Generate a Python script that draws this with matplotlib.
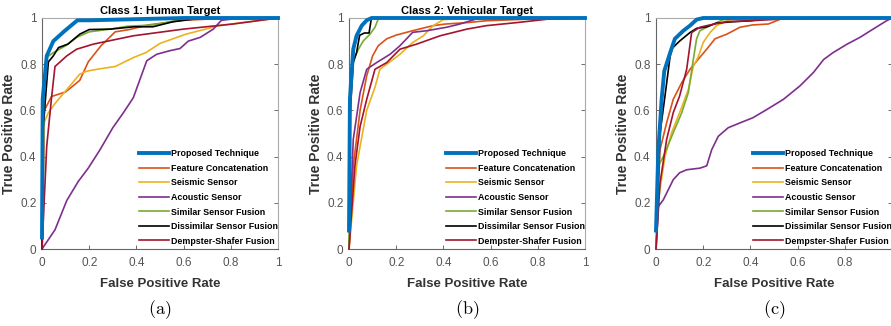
import numpy as np
import matplotlib.pyplot as plt

plt.rcParams['font.family'] = ['Liberation Sans', 'DejaVu Sans']
plt.rcParams['mathtext.fontset'] = 'cm'

names = ['Proposed Technique', 'Feature Concatenation', 'Seismic Sensor', 'Acoustic Sensor',
         'Similar Sensor Fusion', 'Dissimilar Sensor Fusion', 'Dempster-Shafer Fusion']
colors = ['#0072BD', '#D95319', '#EDB120', '#7E2F8E', '#77AC30', '#000000', '#A2142F']
titles = ['Class 1: Human Target', 'Class 2: Vehicular Target', '']
captions = ['(a)', '(b)', '(c)']

# ---- class 1 (human)
a_prop_x = [0, 0.003, 0.02, 0.048, 0.097, 0.15, 0.2, 0.4, 0.6, 1]
a_prop_y = [0.05, 0.65, 0.836, 0.90, 0.945, 0.99, 0.99, 0.995, 1.0, 1]
a_feat_x = [0, 0.01, 0.04, 0.10, 0.16, 0.196, 0.25, 0.31, 0.37, 0.45, 0.6, 0.8, 1]
a_feat_y = [0, 0.60, 0.66, 0.68, 0.73, 0.81, 0.88, 0.94, 0.95, 0.97, 0.99, 1.0, 1]
a_seis_x = [0, 0.01, 0.027, 0.055, 0.105, 0.16, 0.19, 0.245, 0.31, 0.39, 0.44, 0.5, 0.61, 0.75, 1]
a_seis_y = [0, 0.55, 0.59, 0.63, 0.69, 0.757, 0.77, 0.78, 0.79, 0.83, 0.85, 0.89, 0.93, 0.967, 1]
a_acou_x = [0, 0.055, 0.105, 0.154, 0.196, 0.246, 0.30, 0.345, 0.387, 0.41, 0.444, 0.486,
            0.54, 0.585, 0.62, 0.67, 0.726, 0.76, 0.81, 1]
a_acou_y = [0, 0.083, 0.21, 0.293, 0.35, 0.43, 0.525, 0.59, 0.655, 0.72, 0.815, 0.843,
            0.858, 0.868, 0.90, 0.916, 0.952, 0.99, 0.996, 1]
a_simi_x = [0, 0.005, 0.02, 0.048, 0.1, 0.147, 0.2, 0.29, 0.36, 0.47, 0.61, 1]
a_simi_y = [0, 0.6, 0.83, 0.85, 0.88, 0.916, 0.94, 0.952, 0.964, 0.97, 0.996, 1]
a_diss_x = [0, 0.003, 0.027, 0.048, 0.07, 0.11, 0.16, 0.2, 0.29, 0.39, 0.47, 0.556, 0.67, 1]
a_diss_y = [0, 0.5, 0.81, 0.836, 0.872, 0.887, 0.93, 0.95, 0.952, 0.962, 0.962, 0.984, 0.999, 1]
a_demp_x = [0, 0.02, 0.04, 0.055, 0.105, 0.147, 0.218, 0.387, 0.6, 0.81, 1]
a_demp_y = [0, 0.445, 0.65, 0.79, 0.836, 0.865, 0.887, 0.923, 0.952, 0.974, 1]

# ---- class 2 (vehicle)
b_prop_x = [0, 0.004, 0.018, 0.032, 0.054, 0.075, 0.096, 1]
b_prop_y = [0.08, 0.65, 0.865, 0.923, 0.967, 0.99, 1.0, 1]
b_feat_x = [0, 0.018, 0.047, 0.075, 0.1, 0.124, 0.16, 0.2, 0.27, 0.357, 0.41, 0.5, 0.58, 0.78, 1]
b_feat_y = [0, 0.36, 0.6, 0.75, 0.836, 0.88, 0.91, 0.926, 0.945, 0.967, 0.974, 0.98, 0.988, 0.996, 1]
b_seis_x = [0, 0.032, 0.075, 0.11, 0.131, 0.16, 0.216, 0.27, 0.315, 0.357, 0.4, 0.5, 1]
b_seis_y = [0, 0.36, 0.6, 0.7, 0.778, 0.8, 0.843, 0.894, 0.923, 0.967, 0.993, 1.0, 1]
b_acou_x = [0, 0.018, 0.047, 0.075, 0.117, 0.174, 0.216, 0.27, 0.33, 0.414, 0.47, 0.54, 0.58, 1]
b_acou_y = [0, 0.474, 0.677, 0.778, 0.807, 0.843, 0.88, 0.938, 0.945, 0.96, 0.974, 0.996, 1.0, 1]
b_simi_x = [0, 0.004, 0.018, 0.04, 0.06, 0.089, 0.11, 0.124, 0.131, 1]
b_simi_y = [0, 0.65, 0.815, 0.865, 0.9, 0.93, 0.96, 0.996, 1.0, 1]
b_diss_x = [0, 0.004, 0.018, 0.032, 0.045, 0.065, 0.085, 0.095, 1]
b_diss_y = [0.08, 0.575, 0.807, 0.85, 0.925, 0.935, 0.935, 1.0, 1]
b_demp_x = [0, 0.025, 0.047, 0.075, 0.11, 0.16, 0.216, 0.287, 0.386, 0.5, 0.583, 0.71, 0.85, 1]
b_demp_y = [0, 0.36, 0.53, 0.648, 0.778, 0.807, 0.865, 0.887, 0.923, 0.952, 0.967, 0.98, 0.996, 1]

# ---- class 3
c_prop_x = [0, 0.01, 0.024, 0.035, 0.06, 0.08, 0.116, 0.144, 0.172, 0.2, 1]
c_prop_y = [0.08, 0.43, 0.65, 0.77, 0.85, 0.91, 0.945, 0.967, 0.993, 1.0, 1]
c_feat_x = [0, 0.017, 0.045, 0.073, 0.109, 0.144, 0.186, 0.215, 0.25, 0.3, 0.356, 0.41, 0.476, 0.53, 0.61, 1]
c_feat_y = [0, 0.43, 0.546, 0.648, 0.72, 0.778, 0.83, 0.865, 0.91, 0.93, 0.96, 0.97, 0.974, 0.996, 1.0, 1]
c_seis_x = [0, 0.01, 0.038, 0.066, 0.10, 0.137, 0.158, 0.18, 0.2, 0.229, 0.257, 0.3, 0.356, 1]
c_seis_y = [0, 0.213, 0.4, 0.503, 0.59, 0.69, 0.79, 0.835, 0.894, 0.937, 0.967, 0.988, 1.0, 1]
c_acou_x = [0, 0.01, 0.031, 0.073, 0.1, 0.13, 0.186, 0.215, 0.236, 0.264, 0.306, 0.356, 0.41,
            0.47, 0.54, 0.61, 0.667, 0.71, 0.75, 0.81, 0.864, 0.92, 0.977, 1]
c_acou_y = [0, 0.184, 0.213, 0.3, 0.33, 0.343, 0.35, 0.36, 0.43, 0.488, 0.525, 0.546, 0.568,
            0.604, 0.648, 0.706, 0.764, 0.82, 0.85, 0.887, 0.916, 0.952, 0.988, 1]
c_simi_x = [0, 0.01, 0.031, 0.073, 0.109, 0.137, 0.158, 0.172, 0.186, 0.229, 0.285, 0.356, 1]
c_simi_y = [0, 0.36, 0.4, 0.503, 0.59, 0.677, 0.82, 0.91, 0.945, 0.967, 0.993, 1.0, 1]
c_diss_x = [0, 0.017, 0.038, 0.06, 0.07, 0.1, 0.144, 0.172, 0.215, 0.257, 0.328, 0.4, 0.47, 1]
c_diss_y = [0.08, 0.5, 0.662, 0.836, 0.87, 0.9, 0.937, 0.955, 0.962, 0.978, 0.984, 0.988, 0.998, 1]
c_demp_x = [0, 0.017, 0.045, 0.073, 0.10, 0.13, 0.151, 0.186, 0.229, 0.3, 0.4, 0.54, 1]
c_demp_y = [0, 0.285, 0.474, 0.59, 0.662, 0.778, 0.937, 0.96, 0.97, 0.984, 0.988, 0.996, 1]

panels = [
    [(a_prop_x, a_prop_y), (a_feat_x, a_feat_y), (a_seis_x, a_seis_y), (a_acou_x, a_acou_y),
     (a_simi_x, a_simi_y), (a_diss_x, a_diss_y), (a_demp_x, a_demp_y)],
    [(b_prop_x, b_prop_y), (b_feat_x, b_feat_y), (b_seis_x, b_seis_y), (b_acou_x, b_acou_y),
     (b_simi_x, b_simi_y), (b_diss_x, b_diss_y), (b_demp_x, b_demp_y)],
    [(c_prop_x, c_prop_y), (c_feat_x, c_feat_y), (c_seis_x, c_seis_y), (c_acou_x, c_acou_y),
     (c_simi_x, c_simi_y), (c_diss_x, c_diss_y), (c_demp_x, c_demp_y)],
]

W, H = 891, 326
fig = plt.figure(figsize=(W / 100, H / 100), dpi=100)
lefts = [42, 349, 656]
aw, top, bot = 236, 18, 249

for k in range(3):
    ax = fig.add_axes([lefts[k] / W, 1 - bot / H, aw / W, (bot - top) / H])
    for i, (xs, ys) in enumerate(panels[k]):
        lw = 2.8 if i == 0 else 1.2
        z = 10 if i == 0 else 3 + i
        ax.plot(xs, ys, color=colors[i], lw=lw, label=names[i], zorder=z, clip_on=False)
    ax.set_xlim(0, 1)
    ax.set_ylim(0, 1)
    ticks = [0, 0.2, 0.4, 0.6, 0.8, 1]
    labs = ['0', '0.2', '0.4', '0.6', '0.8', '1']
    ax.set_xticks(ticks)
    # the last panel is cropped at the right edge, so its "1" is not shown
    ax.set_xticklabels(labs if k < 2 else labs[:-1] + [''])
    ax.set_yticks(ticks)
    ax.set_yticklabels(labs)
    ax.tick_params(direction='in', length=3, width=0.6, colors='#555555', labelsize=8.5,
                   top=False, right=True)
    ax.tick_params(axis='x', pad=6)
    ax.tick_params(axis='y', pad=4)
    for s in ['left', 'bottom']:
        ax.spines[s].set_color('#666666')
        ax.spines[s].set_linewidth(0.8)
    for s in ['top', 'right']:
        ax.spines[s].set_color('#aaaaaa')
        ax.spines[s].set_linewidth(0.8)
    ax.set_xlabel('False Positive Rate', fontsize=9.5, fontweight='bold', color='#333333', labelpad=6)
    ax.set_ylabel('True Positive Rate', fontsize=10, fontweight='bold', color='#333333', labelpad=3)
    if titles[k]:
        ax.set_title(titles[k], fontsize=8, fontweight='bold', pad=3)
    ax.legend(loc='lower left', bbox_to_anchor=(0.41, 0.015), frameon=False,
              prop={'size': 6.4, 'weight': 'bold'}, handlelength=3.4, handletextpad=0.25,
              labelspacing=0.62, borderpad=0, borderaxespad=0)
    cx = (lefts[k] + aw / 2) / W
    fig.text(cx, 1 - 310 / H, '$\\mathrm{' + captions[k] + '}$', ha='center', va='center',
             fontsize=13)

fig.savefig('out.png', dpi=100)
